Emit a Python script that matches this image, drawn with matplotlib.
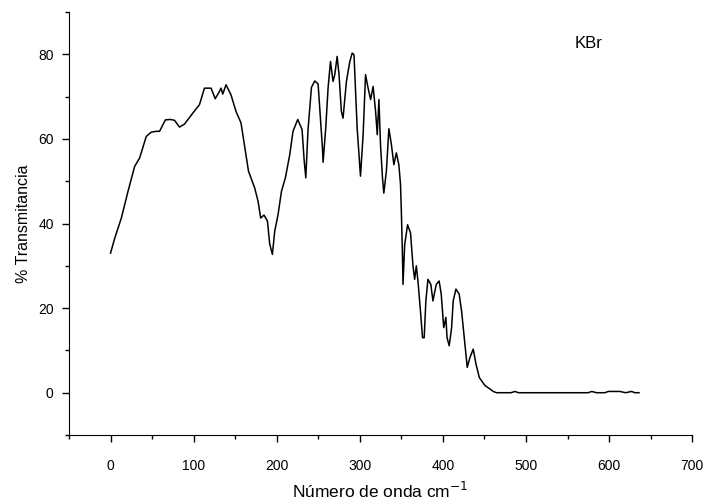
import matplotlib
matplotlib.use("Agg")
import matplotlib.pyplot as plt
from matplotlib.ticker import MultipleLocator

# wavenumber (cm-1) and transmittance (%)
wavenumber = [0, 5, 13, 21, 29, 35, 43, 49, 55, 59, 66, 72, 77, 83, 89, 99, 107,
              113, 121, 126, 131, 133, 135, 139, 145, 151, 157, 161, 166, 173.5,
              177.5, 180.7, 184.7, 188.8, 191.6, 194.8, 197.6, 201.6, 205.7,
              210.4, 215.7, 219.6, 225.3, 230.5, 233, 235, 237.7, 241.8, 245.8,
              249.8, 252.6, 255, 255.8, 259, 261.8, 264.7, 267.8, 269.9, 272.7,
              275, 277.8, 279.8, 283.9, 288, 290.8, 293, 296.8, 299, 300.8, 304,
              306.9, 310, 313, 316, 319, 321, 323, 324.9, 327.3, 328.9, 332, 335,
              338, 341, 344, 347, 349, 350, 351.4, 352, 354, 357.5, 361, 364, 366,
              368, 370, 373, 375.5, 377.5, 379.5, 382, 385.5, 388, 392, 395.5,
              398, 401, 403.6, 405, 407.6, 410.5, 412.4, 415.7, 419.6, 422.5,
              426.5, 429.3, 432.5, 436.5, 439.8, 443.8, 450.6, 456.6, 460.6,
              464.6, 482, 486.7, 491, 575, 579, 585, 595, 599, 610, 613, 620, 627,
              631, 636]
transmitancia = [33, 36.5, 41.3, 47.6, 53.5, 55.5, 60.6, 61.6, 61.8, 61.8, 64.5,
                 64.6, 64.4, 62.8, 63.5, 66.1, 68.1, 72, 72, 69.5, 71.2, 72, 70.6,
                 72.8, 70.4, 66.5, 63.8, 58.7, 52.4, 48.4, 45.3, 41.3, 42, 40.6,
                 35.1, 32.7, 38.2, 42.1, 47.6, 50.8, 56.3, 61.8, 64.6, 62.2, 55,
                 50.8, 62.2, 72.2, 73.7, 73, 65, 57.9, 54.5, 62.6, 72, 78.3, 73.6,
                 75.2, 79.5, 75.2, 66.5, 64.9, 73.6, 78.3, 80.3, 79.9, 62.6, 56.3,
                 51.2, 61, 75.2, 72, 69.3, 72.4, 66.5, 61, 69.3, 58.7, 50.8, 47.2,
                 52.4, 62.4, 58.7, 53.9, 56.7, 53.9, 49.2, 42.9, 31.9, 25.6, 35,
                 39.7, 37.8, 30, 26.8, 30, 26.4, 19.3, 13, 13, 21.7, 26.8, 25.6,
                 21.7, 25.6, 26.4, 23.3, 15.4, 17.8, 13, 11.1, 15.4, 21.7, 24.5,
                 23.3, 19.3, 11.5, 6, 8.3, 10.3, 6.8, 3.6, 1.7, 0.9, 0.3, 0, 0,
                 0.3, 0, 0, 0.3, 0, 0, 0.3, 0.3, 0.3, 0, 0.3, 0, 0]

plt.rcParams['font.family'] = ['Liberation Sans Narrow', 'Liberation Sans', 'DejaVu Sans']
label_font = ['Liberation Sans', 'DejaVu Sans']

fig = plt.figure(figsize=(7.07, 5.01), dpi=100)
ax = fig.add_axes([0.0976, 0.1317, 0.8814, 0.8443])

ax.plot(wavenumber, transmitancia, color='black', linewidth=1.1)

ax.set_xlim(-50, 700)
ax.set_ylim(-10, 90)
ax.xaxis.set_major_locator(MultipleLocator(100))
ax.xaxis.set_minor_locator(MultipleLocator(50))
ax.yaxis.set_major_locator(MultipleLocator(20))
ax.yaxis.set_minor_locator(MultipleLocator(10))
ax.spines['top'].set_visible(False)
ax.spines['right'].set_visible(False)
ax.tick_params(which='major', direction='out', length=5, width=1, labelsize=10, pad=12)
ax.tick_params(which='minor', direction='out', length=3, width=1)
ax.tick_params(axis='y', pad=6)

ax.set_xlabel('Número de onda cm$^{-1}$', fontsize=12.5, family=label_font, labelpad=6)
ax.set_ylabel('% Transmitancia', fontsize=11.5, family=label_font, labelpad=5)
ax.text(559, 81.4, 'KBr', fontsize=12, family=label_font)

fig.savefig('out.png', dpi=100)
